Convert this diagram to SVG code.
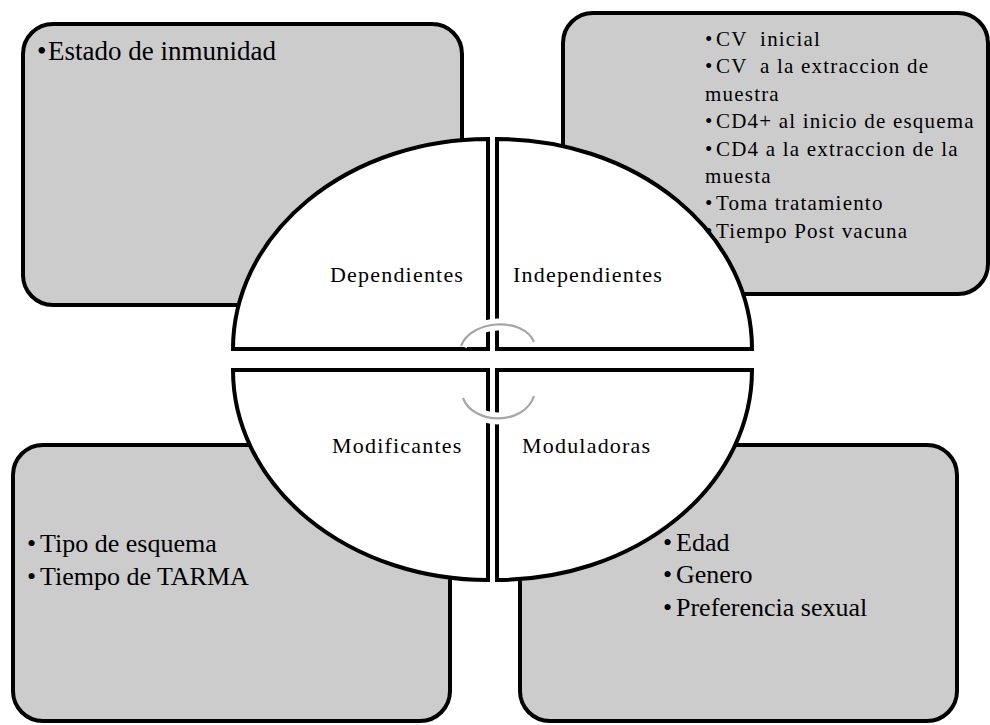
<svg xmlns="http://www.w3.org/2000/svg" width="990" height="725" viewBox="0 0 990 725">
  <style>
    .box { fill: #cccccc; stroke: #000000; stroke-width: 4; }
    .quad { fill: #ffffff; stroke: #000000; stroke-width: 4; stroke-linejoin: miter; }
    .lbl { font-family: "Liberation Serif", "Times New Roman", serif; font-size: 22px; letter-spacing: 1.2px; fill: #000000; }
    .big { font-family: "Liberation Serif", "Times New Roman", serif; font-size: 26px; fill: #000000; white-space: pre; }
    .mid { font-family: "Liberation Serif", "Times New Roman", serif; font-size: 21px; letter-spacing: 1.2px; fill: #000000; white-space: pre; }
    .halo { fill: none; stroke: #ffffff; stroke-width: 12; }
    .arc { fill: none; stroke: #a6a6a6; stroke-width: 2.2; }
  </style>
  <rect x="0" y="0" width="990" height="725" fill="#ffffff"/>

  <g id="box-top-left">
    <rect class="box" x="23" y="24" width="439" height="281" rx="30" ry="30"/>
  </g>
  <g id="box-top-right">
    <rect class="box" x="563" y="13" width="425" height="281" rx="30" ry="30"/>
  </g>
  <g id="box-bottom-left">
    <rect class="box" x="13" y="445" width="437" height="276" rx="30" ry="30"/>
  </g>
  <g id="box-bottom-right">
    <rect class="box" x="520" y="445" width="437" height="276" rx="30" ry="30"/>
  </g>

  <g id="quad-dependientes">
    <path class="quad" d="M233,349 A255,210 0 0 1 488,139 L488,349 Z"/>
    <text class="lbl" x="330" y="282">Dependientes</text>
  </g>
  <g id="quad-independientes">
    <path class="quad" d="M497,139 A255,210 0 0 1 752,349 L497,349 Z"/>
    <text class="lbl" x="513" y="282">Independientes</text>
  </g>
  <g id="quad-modificantes">
    <path class="quad" d="M233,370 L488,370 L488,580 A255,210 0 0 1 233,370 Z"/>
    <text class="lbl" x="332" y="453">Modificantes</text>
  </g>
  <g id="quad-moduladoras">
    <path class="quad" d="M497,370 L752,370 A255,210 0 0 1 497,580 Z"/>
    <text class="lbl" x="522" y="453">Moduladoras</text>
  </g>

  <g id="connectors">
    <path class="halo" d="M461,346 C471,319 524,317 534,342"/>
    <path class="arc" d="M461,346 C471,319 524,317 534,342"/>
    <path class="halo" d="M463,398 C473,425 524,426 534,396"/>
    <path class="arc" d="M463,398 C473,425 524,426 534,396"/>
  </g>

  <g id="text-top-left">
    <text class="big" font-size="27" style="font-size:27px"><tspan x="37" y="59.5">•</tspan><tspan x="48" y="59.5">Estado de inmunidad</tspan></text>
  </g>
  <g id="text-top-right">
    <text class="mid"><tspan x="705" y="46">•</tspan><tspan x="716" y="46">CV  inicial</tspan></text>
    <text class="mid"><tspan x="705" y="73.4">•</tspan><tspan x="716" y="73.4">CV  a la extraccion de</tspan></text>
    <text class="mid" x="705" y="100.8">muestra</text>
    <text class="mid"><tspan x="705" y="128.2">•</tspan><tspan x="716" y="128.2">CD4+ al inicio de esquema</tspan></text>
    <text class="mid"><tspan x="705" y="155.6">•</tspan><tspan x="716" y="155.6">CD4 a la extraccion de la</tspan></text>
    <text class="mid" x="705" y="183">muesta</text>
    <text class="mid"><tspan x="705" y="210.4">•</tspan><tspan x="716" y="210.4">Toma tratamiento</tspan></text>
    <text class="mid"><tspan x="705" y="237.8">•</tspan><tspan x="716" y="237.8">Tiempo Post vacuna</tspan></text>
  </g>
  <g id="text-bottom-left">
    <text class="big"><tspan x="27" y="551.5">•</tspan><tspan x="40" y="551.5">Tipo de esquema</tspan></text>
    <text class="big"><tspan x="27" y="584.5">•</tspan><tspan x="40" y="584.5">Tiempo de TARMA</tspan></text>
  </g>
  <g id="text-bottom-right">
    <text class="big"><tspan x="663" y="551">•</tspan><tspan x="676" y="551">Edad</tspan></text>
    <text class="big"><tspan x="663" y="583.3">•</tspan><tspan x="676" y="583.3">Genero</tspan></text>
    <text class="big"><tspan x="663" y="615.7">•</tspan><tspan x="676" y="615.7">Preferencia sexual</tspan></text>
  </g>
</svg>
